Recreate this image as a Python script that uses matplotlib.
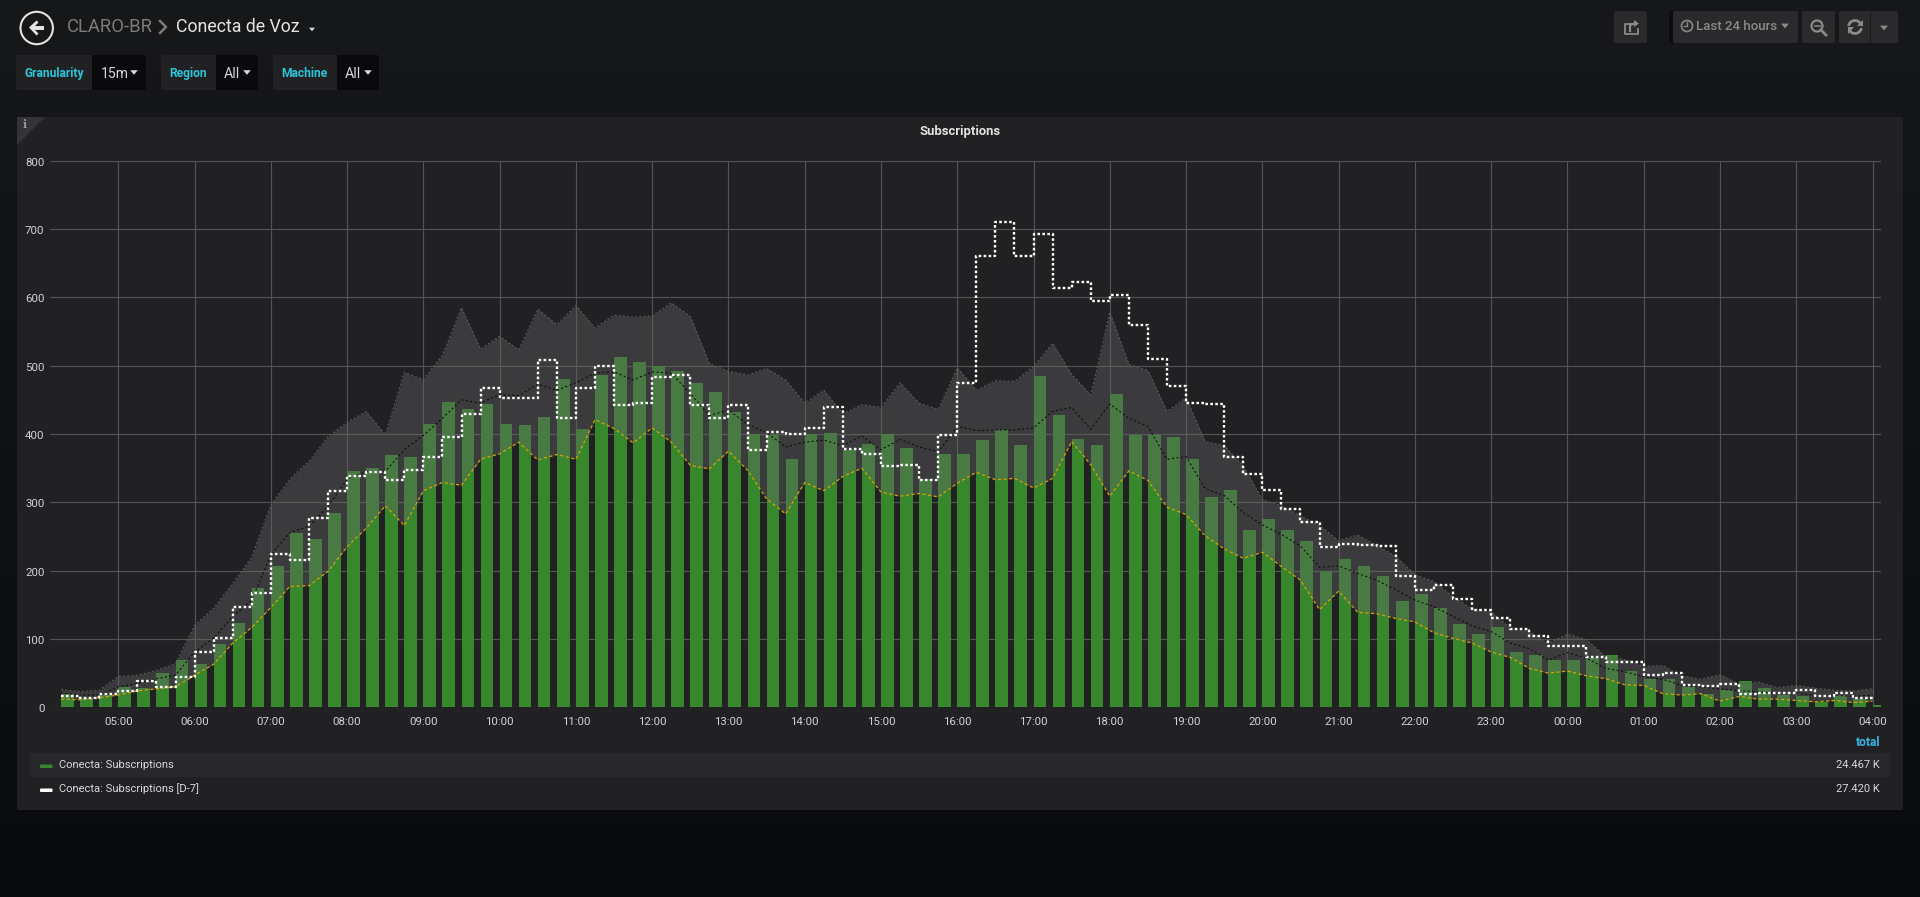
import numpy as np
import pandas as pd
import matplotlib
matplotlib.use("Agg")
import matplotlib.pyplot as plt
import matplotlib.dates as mdates
import matplotlib.transforms as mtrans
from matplotlib.patches import Rectangle, Circle, Polygon, FancyBboxPatch, Arc

plt.rcParams['font.family'] = ['Roboto', 'DejaVu Sans']

# ---- data ----
subscriptions = [20,14,18,29,28,50,69,63,93,124,174,207,255,246,285,346,350,369,366,415,447,437,444,
                 414,413,425,481,408,487,512,506,500,492,475,462,432,400,399,364,400,401,377,386,400,379,334,370,
                 370,391,406,384,485,428,392,384,459,399,399,395,364,308,318,260,275,260,244,200,217,207,192,156,
                 166,145,122,107,117,81,77,69,69,72,77,53,42,42,30,20,26,39,28,18,16,8,18,12,3]
band_lower = [12,11,14,18,24,27,30,47,63,94,117,146,177,178,199,235,262,295,266,317,329,325,363,
              371,388,362,370,363,421,408,387,409,388,354,349,375,347,305,283,329,317,338,350,315,309,313,308,
              328,344,333,335,321,335,389,355,309,346,332,293,282,251,232,218,227,206,186,143,170,139,137,130,
              125,109,101,94,81,73,57,50,53,46,42,33,32,20,18,20,9,16,12,12,10,8,10,7,9]
band_upper = [26,23,25,45,47,54,64,120,145,181,220,296,334,360,396,417,433,399,490,480,515,585,524,
              543,523,583,560,588,555,574,571,573,592,572,503,492,486,496,479,445,464,430,443,439,475,445,436,
              497,464,478,477,499,533,487,457,578,502,493,433,453,389,383,353,304,295,280,266,244,252,237,221,
              194,184,162,144,140,116,111,94,107,99,74,70,60,61,46,41,48,34,37,29,32,28,25,24,27]
band_mean = [21,18,18,30,35,42,47,81,101,133,157,223,256,265,294,334,345,345,377,398,423,450,445,
             458,456,473,464,475,489,491,479,491,489,459,427,435,414,402,381,388,391,383,397,377,392,381,374,
             411,405,406,406,409,433,439,407,444,423,411,363,367,320,310,285,267,253,236,205,207,196,186,172,
             157,147,133,119,111,94,86,69,80,72,57,52,45,41,32,30,27,24,23,20,21,17,18,16,18]
subscriptions_d7 = [16,13,20,24,38,30,44,81,101,147,167,224,215,277,317,338,345,333,348,366,396,430,468,
                    453,453,509,424,468,499,442,446,483,487,443,423,443,377,403,400,409,440,378,370,353,355,333,399,
                    474,661,711,661,692,613,623,594,604,560,510,470,446,444,366,341,318,290,271,235,239,237,236,192,
                    172,179,159,143,130,114,105,90,90,74,67,67,48,50,32,31,34,20,21,21,26,16,21,14,14]
y_ticks = [0,100,200,300,400,500,600,700,800]
legend_names = ["Conecta: Subscriptions", "Conecta: Subscriptions [D-7]"]
legend_totals = ["24.467 K", "27.420 K"]

W, H = 1920, 897
fig = plt.figure(figsize=(W/100, H/100), dpi=100)

# ---- page chrome, in pixel coordinates ----
bg = fig.add_axes([0,0,1,1], zorder=0)
bg.set_xlim(0,W); bg.set_ylim(H,0); bg.axis('off')
top = np.array([0x17,0x18,0x1a])/255; bot = np.array([0x09,0x0a,0x0c])/255
grad = np.linspace(0,1,256)[:,None,None]*(bot-top)+top
bg.imshow(grad, extent=[0,W,H,0], aspect='auto', zorder=0)
bg.set_xlim(0,W); bg.set_ylim(H,0)

def rect(x0,y0,x1,y1,c,z=1):
    bg.add_patch(Rectangle((x0,y0),x1-x0,y1-y0,fc=c,ec='none',zorder=z))
def rrect(x0,y0,x1,y1,c,z=1):
    bg.add_patch(FancyBboxPatch((x0+2,y0+2),x1-x0-4,y1-y0-4,boxstyle="round,pad=2",fc=c,ec='none',zorder=z))
def caret(cx,cy,c,s=4):
    bg.add_patch(Polygon([(cx-s,cy-s*0.6),(cx+s,cy-s*0.6),(cx,cy+s*0.6)],fc=c,ec='none',zorder=3))
def px(p): return p*0.72

# panel
rect(17,117,1903,810,'#212124')
bg.add_patch(Polygon([(17,117),(45,117),(17,145)],fc='#333338',ec='none',zorder=2))
bg.text(25,125,'i',color='#9a9a9a',fontsize=px(11),fontweight='bold',family='DejaVu Serif',ha='center',va='center',zorder=3)
bg.text(960,131,'Subscriptions',color='#e3e3e3',fontsize=px(13),fontweight='bold',ha='center',va='center',zorder=3)

# header
bg.add_patch(Circle((36.7,28),16.2,fc='none',ec='#e3e3e3',lw=1.5,zorder=3))
bg.add_patch(Polygon([(29,27.5),(36.5,20.5),(38.5,22.5),(35,26),(44,26),(44,30),(35,30),(38.5,33.5),(36.5,35.5)],
                     fc='#e3e3e3',ec='none',zorder=3))
bg.text(67,27,'CLARO-BR',color='#7b7b7b',fontsize=px(18.5),ha='left',va='center',zorder=3)
bg.plot([160,166,160],[21,27,33],color='#7b7b7b',lw=1.8,zorder=3)
bg.text(176,27,'Conecta de Voz',color='#e3e3e3',fontsize=px(17.8),ha='left',va='center',zorder=3)
caret(312,29.5,'#d8d9da',3)

# template variables
for lx0,lx1,vx1,label,value,lab_x,val_x,car_x in [
        (16,92,146,'Granularity','15m',24.5,101,134),
        (161,216,258,'Region','All',169.5,224,247),
        (273,337,379,'Machine','All',281.5,345,368)]:
    rrect(lx0,55,vx1,90,'#212124',1)
    rrect(lx1,55,vx1,90,'#0a0a0c',2)
    rect(lx1,55,lx1+4,90,'#0a0a0c',2)
    bg.text(lab_x,73.5,label,color='#2ac6d8',fontsize=px(12),fontweight='bold',ha='left',va='center',zorder=3)
    bg.text(val_x,74,value,color='#d8d9da',fontsize=px(14),ha='left',va='center',zorder=3)
    caret(car_x,72.5,'#d8d9da',3.8)

# top-right buttons
btn = '#2a2a2d'; ic = '#8a8a8a'
rrect(1614,11,1647,43,btn)
rrect(1673,11,1798,43,btn)
rect(1669,11,1673,43,'#0b0c0e',1)
rrect(1802,11,1835,43,btn)
rrect(1839,11,1898,43,btn)
rect(1870,11,1871,43,'#1c1c1e',3)
bg.plot([1634,1625,1625,1638,1638],[24,24,34,34,29],color=ic,lw=1.3,zorder=3)
bg.plot([1630,1630,1636],[31,25,23],color=ic,lw=1.6,zorder=3)
bg.add_patch(Polygon([(1634,20),(1639,23.5),(1634,27)],fc=ic,ec='none',zorder=3))
bg.add_patch(Circle((1687,26),5.5,fc='none',ec=ic,lw=1.2,zorder=3))
bg.plot([1687,1687,1684],[22.5,26.5,26.5],color=ic,lw=1,zorder=3)
bg.text(1696.5,27,'Last 24 hours',color=ic,fontsize=px(13.3),fontweight='medium',ha='left',va='center',zorder=3)
caret(1785,26,ic,4)
bg.add_patch(Circle((1817,26),5.5,fc='none',ec=ic,lw=1.6,zorder=3))
bg.plot([1814.5,1819.5],[26,26],color=ic,lw=1.2,zorder=3)
bg.plot([1821,1826],[30,35],color=ic,lw=2,zorder=3)
# refresh icon: two opposing arcs with arrow heads
bg.add_patch(Arc((1855,27),13,13,theta1=190,theta2=330,ec=ic,lw=2,zorder=3))
bg.add_patch(Arc((1855,27),13,13,theta1=10,theta2=150,ec=ic,lw=2,zorder=3))
bg.add_patch(Polygon([(1862.5,20),(1862.5,26.5),(1856.5,26.5)],fc=ic,ec='none',zorder=3))
bg.add_patch(Polygon([(1847.5,34),(1847.5,27.5),(1853.5,27.5)],fc=ic,ec='none',zorder=3))
caret(1884,28,ic,4)

# legend table
rect(30,753,1890,777,'#28282b')
bg.text(1880,742.5,'total',color='#33b5e5',fontsize=px(12),fontweight='bold',ha='right',va='center',zorder=3)
for i,(name,tot,col) in enumerate(zip(legend_names,legend_totals,['#37872D','#ffffff'])):
    yc = 764.5+24*i
    bg.add_patch(FancyBboxPatch((41,yc+1),10.5,1.5,boxstyle="round,pad=1",fc=col,ec='none',zorder=3))
    bg.text(59,yc,name,color='#d8d9da',fontsize=px(11.1),ha='left',va='center',zorder=3)
    bg.text(1880,yc,tot,color='#d8d9da',fontsize=px(11.1),ha='right',va='center',zorder=3)

# ---- chart ----
x0,x1,y_top,y_bot = 50,1881,160.7,707.3
ax = fig.add_axes([x0/W,1-y_bot/H,(x1-x0)/W,(y_bot-y_top)/H],zorder=2)
ax.patch.set_alpha(0)
times = pd.date_range('2019-01-07 04:15',periods=len(subscriptions),freq='15min')
anchor = pd.Timestamp('2019-01-07 05:00')
px_per_hour = 76.27
ax.set_xlim(anchor+pd.Timedelta(hours=(x0-118.3)/px_per_hour),
            anchor+pd.Timedelta(hours=(x1-118.3)/px_per_hour))
ax.set_ylim(0,800)

bar_w = pd.Timedelta(minutes=10)/pd.Timedelta(days=1)
ax.bar(times,subscriptions,width=bar_w,align='edge',color='#37872D',edgecolor='none',zorder=2)
ax.fill_between(times,band_lower,band_upper,color='#666666',alpha=0.39,linewidth=0,zorder=3)
ax.plot(times,band_upper,color='#5c5c5e',lw=0.75,ls=(0,(2,2)),zorder=4)
ax.plot(times,band_lower,color='#d3a500',lw=0.9,ls=(0,(2.5,2)),zorder=4)
ax.plot(times,band_mean,color='#0c0c0c',lw=0.8,ls=(0,(1.8,2.2)),zorder=4)
ax.plot(times,subscriptions_d7,color='white',lw=1.7,ls=(0,(1.1,1.0)),drawstyle='steps-post',zorder=5)

ax.xaxis.set_major_locator(mdates.HourLocator())
ax.xaxis.set_major_formatter(mdates.DateFormatter('%H:%M'))
ax.set_yticks(y_ticks)
ax.grid(True,color='#535355',lw=0.85,zorder=1)
ax.set_axisbelow(True)
for s in ax.spines.values(): s.set_visible(False)
ax.tick_params(axis='both',length=0,labelcolor='#d0d1d2',labelsize=px(11.5))
ax.tick_params(axis='x',pad=7.2)
ax.tick_params(axis='y',pad=4)
shift = mtrans.ScaledTranslation(0,-1/100,fig.dpi_scale_trans)
for lab in ax.get_yticklabels():
    lab.set_transform(lab.get_transform()+shift)

fig.savefig('out.png',dpi=100,facecolor='#161719')
